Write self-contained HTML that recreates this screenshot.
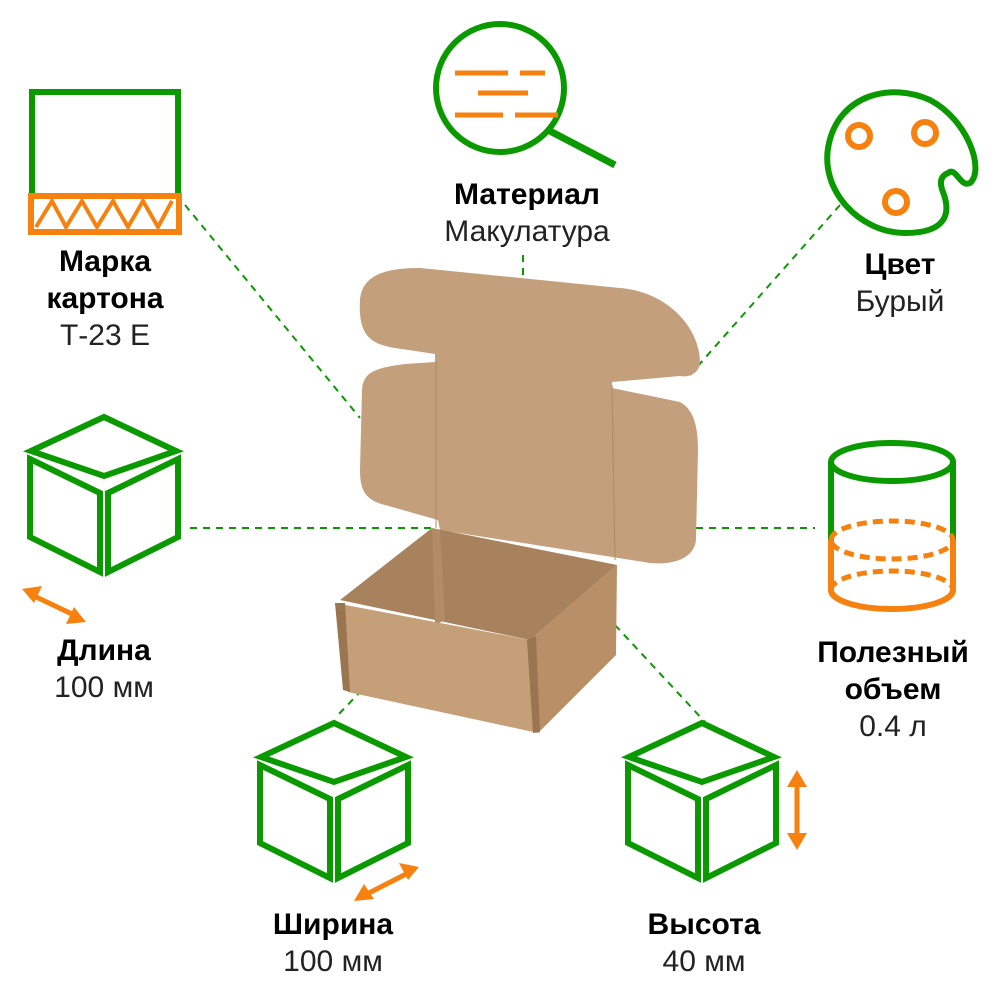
<!DOCTYPE html>
<html><head><meta charset="utf-8"><style>
body{margin:0;background:#fff;width:1000px;height:1000px;overflow:hidden;position:relative;font-family:"Liberation Sans",sans-serif}
.t{position:absolute;text-align:center;font-size:30px;line-height:37px;color:#222;transform:translateX(-50%);white-space:nowrap}
.t b{font-weight:bold;color:#000}
svg{position:absolute;left:0;top:0}
</style></head><body>
<svg width="1000" height="1000" viewBox="0 0 1000 1000">
<g stroke="#0a9a00" stroke-width="2" stroke-dasharray="7,6" fill="none">
<line x1="185" y1="205" x2="360" y2="418"/>
<line x1="190" y1="528" x2="432" y2="528"/>
<line x1="523" y1="255" x2="523" y2="275"/>
<line x1="840" y1="205" x2="690" y2="375"/>
<line x1="696" y1="528" x2="815" y2="528"/>
<line x1="362" y1="690" x2="335" y2="718"/>
<line x1="615" y1="625" x2="705" y2="722"/>
</g>
<path d="M360,300 C362,275 385,268 420,268 L620,288 C670,292 700,330 700,362 C700,372 690,378 680,376 L612,382 L612,388 L680,402 C695,410 698,430 698,450 L696,540 C694,560 670,565 650,563 L440,530 L438,520 L385,505 C365,500 360,490 360,470 L362,390 C363,372 375,368 405,364 L435,362 L435,354 L395,348 C370,344 358,335 360,300 Z" fill="#c39f7c"/>
<path d="M436,362 L436,528 M612,385 L615,560" stroke="#b08a66" stroke-width="1" fill="none"/>
<polygon points="340,600 432,528 617,565 530,640" fill="#a8825c"/>
<polygon points="432,528 440,530 445,620 435,625" fill="#b28c66"/>
<polygon points="335,603 530,640 538,733 348,692" fill="#c49f78"/>
<polygon points="530,640 617,565 616,655 538,733" fill="#b88f66"/>
<polygon points="335,603 345,603 350,692 343,690" fill="#9a7550"/>
<polygon points="527,640 536,636 540,732 533,733" fill="#9a7550"/>
<g fill="none" stroke-linejoin="miter">
<rect x="32" y="92" width="146" height="112" stroke="#0a9a00" stroke-width="6"/>
<rect x="31" y="196" width="148" height="36" fill="#fff" stroke="#f7810f" stroke-width="6"/>
<path d="M36,227 L52,201 L66,227 L82,201 L97,227 L113,201 L128,227 L143,201 L158,227 L172,201" stroke="#f7810f" stroke-width="4"/>
<circle cx="500" cy="88" r="64" stroke="#0a9a00" stroke-width="6"/>
<line x1="548" y1="130" x2="615" y2="165" stroke="#0a9a00" stroke-width="7"/>
<g stroke="#f7810f" stroke-width="5">
<line x1="455" y1="73" x2="508" y2="73"/><line x1="520" y1="73" x2="545" y2="73"/>
<line x1="478" y1="93" x2="528" y2="93"/>
<line x1="455" y1="115" x2="503" y2="115"/><line x1="515" y1="115" x2="558" y2="115"/>
</g>
<path d="M948,173 C956,166 960,188 970,183 C985,170 968,120 930,100 C890,82 840,95 829,143 C818,190 860,233 905,233 C950,233 950,210 943,192 C939,182 941,176 948,173 Z" stroke="#0a9a00" stroke-width="6"/>
<g stroke="#f7810f" stroke-width="6"><circle cx="859" cy="136" r="11"/><circle cx="925" cy="133" r="11"/><circle cx="896" cy="202" r="11"/></g>
<ellipse cx="892" cy="462" rx="61" ry="19" stroke="#0a9a00" stroke-width="6"/>
<path d="M831,462 L831,540 M953,462 L953,540" stroke="#0a9a00" stroke-width="6"/>
<path d="M831,540 L831,590 A61,19 0 0 0 953,590 L953,540" stroke="#f7810f" stroke-width="6"/>
<path d="M831,540 A61,19 0 0 1 953,540 A61,19 0 0 1 831,540 M831,590 A61,19 0 0 1 953,590" stroke="#f7810f" stroke-width="5" stroke-dasharray="10,6"/>
<g stroke="#0a9a00" stroke-width="6">
<polygon points="104,417 176,451 104,476 31,451"/>
<polygon points="30,459 100,493 100,572 30,537"/>
<polygon points="108,493 178,459 178,537 108,572"/>
<g transform="translate(230,306)">
<polygon points="104,417 176,451 104,476 31,451"/>
<polygon points="30,459 100,493 100,572 30,537"/>
<polygon points="108,493 178,459 178,537 108,572"/>
</g>
<g transform="translate(598,306)">
<polygon points="104,417 176,451 104,476 31,451"/>
<polygon points="30,459 100,493 100,572 30,537"/>
<polygon points="108,493 178,459 178,537 108,572"/>
</g>
</g>
</g>
<g stroke="#f7810f" stroke-width="5" fill="#f7810f">
<line x1="32" y1="595" x2="74" y2="615"/>
<polygon points="22,589 42,586 34,603" stroke="none"/>
<polygon points="86,622 66,624 74,607" stroke="none"/>
<line x1="365" y1="895" x2="408" y2="873"/>
<polygon points="354,901 364,884 374,899" stroke="none"/>
<polygon points="419,867 399,863 408,880" stroke="none"/>
<line x1="797" y1="782" x2="797" y2="838"/>
<polygon points="797,770 787,787 807,787" stroke="none"/>
<polygon points="797,850 787,833 807,833" stroke="none"/>
</g>
</svg>
<div class="t" style="left:105px;top:243px"><b>Марка<br>картона</b><br>Т-23 Е</div>
<div class="t" style="left:527px;top:176px"><b>Материал</b><br>Макулатура</div>
<div class="t" style="left:900px;top:246px"><b>Цвет</b><br>Бурый</div>
<div class="t" style="left:104px;top:632px"><b>Длина</b><br>100 мм</div>
<div class="t" style="left:893px;top:634px"><b>Полезный<br>объем</b><br>0.4 л</div>
<div class="t" style="left:333px;top:906px"><b>Ширина</b><br>100 мм</div>
<div class="t" style="left:704px;top:906px"><b>Высота</b><br>40 мм</div>
</body></html>
